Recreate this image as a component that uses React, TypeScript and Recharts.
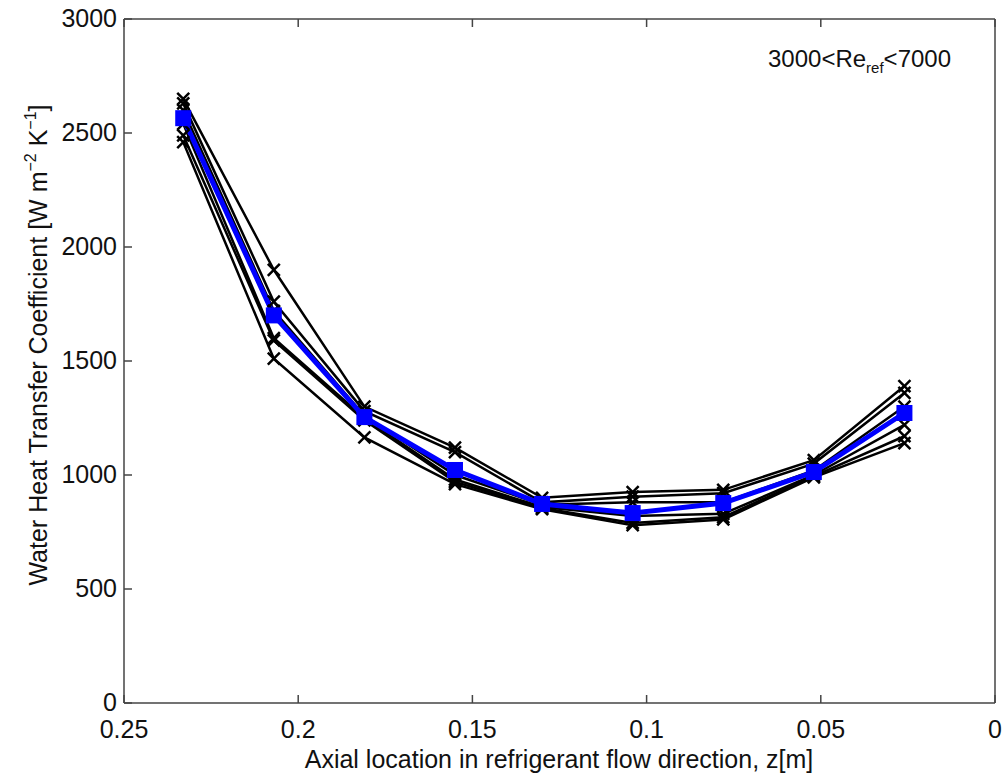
import { LineChart, Line, XAxis, YAxis } from 'recharts'

// axial positions along the tube, z [m]
const zPos = [0.233, 0.207, 0.181, 0.155, 0.13, 0.104, 0.078, 0.052, 0.026]

// individual runs (black, x markers)
const run1 = [2650, 1900, 1300, 1120, 900, 925, 935, 1065, 1390]
const run2 = [2630, 1760, 1280, 1100, 880, 905, 920, 1050, 1360]
const run3 = [2600, 1720, 1260, 1000, 870, 880, 880, 1020, 1300]
const run4 = [2540, 1600, 1250, 980, 860, 820, 830, 1000, 1220]
const run5 = [2490, 1590, 1240, 970, 855, 790, 815, 995, 1170]
const run6 = [2460, 1510, 1165, 960, 850, 780, 805, 990, 1140]

// average (blue, squares)
const meanHtc = [2565, 1700, 1254, 1022, 873, 833, 877, 1013, 1272]

const xTicks = [0, 0.05, 0.1, 0.15, 0.2, 0.25]
const xTickLabels = ['0', '0.05', '0.1', '0.15', '0.2', '0.25']
const yTicks = [0, 500, 1000, 1500, 2000, 2500, 3000]

const runs = [run1, run2, run3, run4, run5, run6]

const data = zPos.map((z, i) => {
  const row: Record<string, number> = { z, mean: meanHtc[i] }
  runs.forEach((r, k) => { row['r' + k] = r[i] })
  return row
})

const FONT = '"Liberation Sans", Arial, Helvetica, sans-serif'
const AXIS = '#444'

const XMark = (props: any) => {
  const { cx, cy } = props
  if (cx == null || cy == null) return null
  const s = 6
  return (
    <path
      d={`M${cx - s},${cy - s}L${cx + s},${cy + s}M${cx - s},${cy + s}L${cx + s},${cy - s}`}
      stroke="#000"
      strokeWidth={2.5}
      fill="none"
    />
  )
}

const SquareMark = (props: any) => {
  const { cx, cy } = props
  if (cx == null || cy == null) return null
  return <rect x={cx - 8} y={cy - 8} width={16} height={16} fill="#0000ff" />
}

const BottomTick = (props: any) => {
  const { x, y, payload } = props
  const idx = xTicks.indexOf(payload.value)
  return (
    <g>
      <line x1={x} x2={x} y1={y} y2={y - 8} stroke={AXIS} strokeWidth={1.5} />
      <text x={x} y={y + 35} textAnchor="middle" fontSize={25} fontFamily={FONT} fill="#111">
        {idx >= 0 ? xTickLabels[idx] : payload.value}
      </text>
    </g>
  )
}

const TopTick = (props: any) => {
  const { x, y } = props
  return <line x1={x} x2={x} y1={y} y2={y + 8} stroke={AXIS} strokeWidth={1.5} />
}

const LeftTick = (props: any) => {
  const { x, y, payload } = props
  return (
    <g>
      <line x1={x} x2={x + 8} y1={y} y2={y} stroke={AXIS} strokeWidth={1.5} />
      <text x={x - 7} y={y} dy="0.33em" textAnchor="end" fontSize={25} fontFamily={FONT} fill="#111">
        {payload.value}
      </text>
    </g>
  )
}

const RightTick = (props: any) => {
  const { x, y } = props
  return <line x1={x} x2={x - 8} y1={y} y2={y} stroke={AXIS} strokeWidth={1.5} />
}

export default function App() {
  return (
    <div style={{ position: 'absolute', left: 0, top: 0, width: 1003, height: 776, background: '#fff' }}>
      <LineChart
        width={1003}
        height={776}
        data={data}
        margin={{ top: 18, right: 7, bottom: 33, left: 64 }}
      >
        <XAxis
          xAxisId="bottom"
          dataKey="z"
          type="number"
          domain={[0, 0.25]}
          ticks={xTicks}
          reversed
          height={40}
          tickSize={0}
          tickMargin={0}
          tick={<BottomTick />}
          axisLine={{ stroke: AXIS, strokeWidth: 1.5 }}
        />
        <XAxis
          xAxisId="top"
          dataKey="z"
          type="number"
          orientation="top"
          domain={[0, 0.25]}
          ticks={xTicks}
          reversed
          height={1}
          tickSize={0}
          tickMargin={0}
          tick={<TopTick />}
          axisLine={{ stroke: AXIS, strokeWidth: 1.5 }}
        />
        <YAxis
          yAxisId="left"
          type="number"
          domain={[0, 3000]}
          ticks={yTicks}
          width={60}
          tickSize={0}
          tickMargin={0}
          tick={<LeftTick />}
          axisLine={{ stroke: AXIS, strokeWidth: 1.5 }}
        />
        <YAxis
          yAxisId="right"
          orientation="right"
          type="number"
          domain={[0, 3000]}
          ticks={yTicks}
          width={1}
          tickSize={0}
          tickMargin={0}
          tick={<RightTick />}
          axisLine={{ stroke: AXIS, strokeWidth: 1.5 }}
        />
        {runs.map((_, k) => (
          <Line
            key={k}
            xAxisId="bottom"
            yAxisId="left"
            dataKey={'r' + k}
            type="linear"
            stroke="#000"
            strokeWidth={2.5}
            dot={<XMark />}
            activeDot={false}
            isAnimationActive={false}
          />
        ))}
        <Line
          xAxisId="bottom"
          yAxisId="left"
          dataKey="mean"
          type="linear"
          stroke="#0000ff"
          strokeWidth={5}
          dot={<SquareMark />}
          activeDot={false}
          isAnimationActive={false}
        />
        <text x={768} y={67} fontSize={24} fontFamily={FONT} fill="#111">
          3000&lt;Re
          <tspan fontSize={15} dy={6}>ref</tspan>
          <tspan dy={-6}>&lt;7000</tspan>
        </text>
        <text
          x={47}
          y={345}
          transform="rotate(-90, 47, 345)"
          textAnchor="middle"
          fontSize={25}
          fontFamily={FONT}
          fill="#111"
        >
          Water Heat Transfer Coefficient [W m
          <tspan fontSize={16} dy={-11}>−2</tspan>
          <tspan dy={11}> K</tspan>
          <tspan fontSize={16} dy={-11}>−1</tspan>
          <tspan dy={11}>]</tspan>
        </text>
        <text x={559} y={768} textAnchor="middle" fontSize={25} fontFamily={FONT} fill="#111">
          Axial location in refrigerant flow direction, z[m]
        </text>
      </LineChart>
    </div>
  )
}
